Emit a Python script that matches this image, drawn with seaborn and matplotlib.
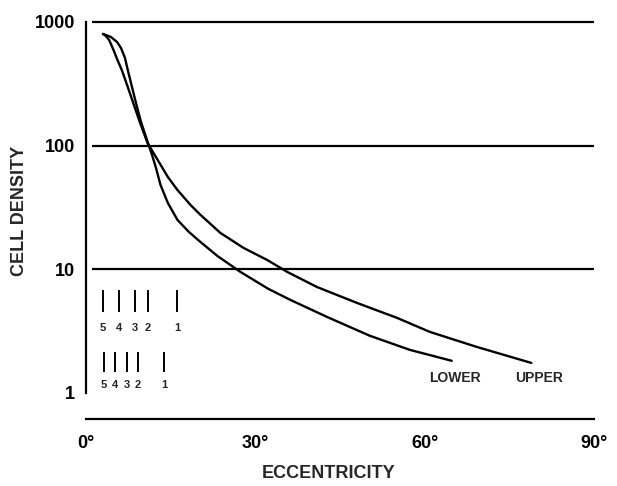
import matplotlib
matplotlib.use("Agg")
import matplotlib.pyplot as plt
import seaborn as sns
from matplotlib.ticker import NullLocator

# ---- data ----
lower_ecc = [3.0, 4.4, 5.5, 6.2, 6.9, 7.4, 8.1, 8.8, 9.7, 11.1, 11.7, 12.4, 13.2,
             14.5, 16.2, 18.2, 20.3, 23.3, 27.4, 32.3, 36.2, 42.7, 50.3, 57.4, 64.8]
lower_density = [800, 757, 689, 616, 512, 409, 304, 226, 158, 101, 84.1, 66.0, 48.1,
                 34.4, 25.1, 20.1, 16.6, 12.8, 9.5, 6.95, 5.66, 4.12, 2.90, 2.23, 1.82]

upper_ecc = [3.0, 3.5, 4.1, 4.8, 5.5, 6.4, 7.4, 8.3, 9.4, 10.9, 12.7, 14.5, 16.2,
             18.5, 20.3, 23.8, 27.9, 32.1, 35.7, 40.9, 48.0, 55.1, 60.9, 69.2, 78.9]
upper_density = [800, 771, 715, 605, 502, 402, 298, 226, 161, 105, 76.6, 55.8, 43.8,
                 33.2, 27.5, 19.7, 14.9, 11.9, 9.5, 7.2, 5.35, 4.05, 3.12, 2.36, 1.75]

ref_levels = [1000, 100, 10]

marker_labels = ["5", "4", "3", "2", "1"]
row1_ecc = [3.0, 5.8, 8.6, 10.9, 16.1]
row2_ecc = [3.2, 5.1, 7.2, 9.2, 13.9]

y_ticks = [1, 10, 100, 1000]
x_ticks = [0, 30, 60, 90]
x_tick_labels = ["0°", "30°", "60°", "90°"]

# ---- style ----
sns.set_style("white")
plt.rcParams["font.family"] = ["Liberation Sans", "DejaVu Sans"]
plt.rcParams["font.weight"] = "bold"

fig = plt.figure(figsize=(6.17, 4.86), dpi=100)
ax = fig.add_axes([0.1394, 0.1914, 0.8233, 0.7634])

ax.set_yscale("log")
ax.set_xlim(0, 90)
ax.set_ylim(1, 1000)

for lv in ref_levels:
    ax.hlines(lv, 1.0, 90, color="black", lw=1.6, clip_on=False)

sns.lineplot(x=lower_ecc, y=lower_density, ax=ax, color="black", lw=1.7,
             sort=False, estimator=None)
sns.lineplot(x=upper_ecc, y=upper_density, ax=ax, color="black", lw=1.7,
             sort=False, estimator=None)
for ln in ax.lines:
    ln.set_clip_on(False)
    ln.set_solid_joinstyle("round")

# receptive-field marker rows
ax.vlines(row1_ecc, 4.5, 6.8, color="black", lw=1.4)
ax.vlines(row2_ecc, 1.48, 2.15, color="black", lw=1.4)
for xe, lab in zip(row1_ecc, marker_labels):
    ax.text(xe, 3.36, lab, ha="center", va="center", fontsize=8, fontweight="bold")
for xe, lab in zip(row2_ecc, marker_labels):
    ax.text(xe, 1.16, lab, ha="center", va="center", fontsize=8, fontweight="bold")

ax.text(65.3, 1.32, "LOWER", ha="center", va="center", fontsize=10, fontweight="bold")
ax.text(80.3, 1.32, "UPPER", ha="center", va="center", fontsize=10, fontweight="bold")

# axes
sns.despine(ax=ax)
ax.spines["left"].set_bounds(1, 1000)
ax.spines["bottom"].set_bounds(0, 90)
ax.spines["bottom"].set_position(("outward", 19))
for s in ("left", "bottom"):
    ax.spines[s].set_linewidth(1.6)
    ax.spines[s].set_color("black")

ax.set_yticks(y_ticks)
ax.set_yticklabels([str(t) for t in y_ticks])
ax.yaxis.set_minor_locator(NullLocator())
ax.set_xticks(x_ticks)
ax.set_xticklabels(x_tick_labels)
ax.tick_params(axis="both", direction="in", length=6, width=1.5, color="black",
               labelsize=13, labelcolor="black")
ax.tick_params(axis="y", pad=8)
ax.tick_params(axis="x", pad=11)
for lab in ax.get_xticklabels() + ax.get_yticklabels():
    lab.set_fontweight("bold")

ax.set_xlabel("ECCENTRICITY", fontsize=13, fontweight="bold")
ax.set_ylabel("CELL DENSITY", fontsize=13, fontweight="bold")
ax.xaxis.set_label_coords(0.478, -0.195)
ax.yaxis.set_label_coords(-0.115, 0.49)

fig.savefig("out.png", dpi=100)
